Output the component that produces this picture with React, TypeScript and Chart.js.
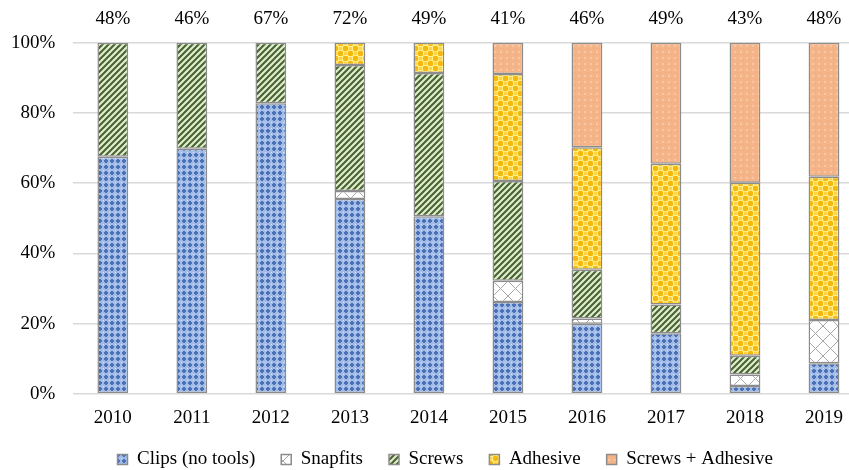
import React, { useEffect, useRef } from "react";
import { Chart, registerables } from "chart.js";

Chart.register(...registerables);

const years = ["2010", "2011", "2012", "2013", "2014", "2015", "2016", "2017", "2018", "2019"];
const totals = ["48%", "46%", "67%", "72%", "49%", "41%", "46%", "49%", "43%", "48%"];
const clips = [67.5, 69.8, 82.8, 55.5, 50.6, 26.1, 19.9, 17.2, 2.2, 8.7];
const snapfits = [null, null, null, 2.3, null, 6.1, 1.5, null, 3.3, 12.3];
const screws = [32.5, 30.2, 17.2, 35.9, 40.8, 28.4, 13.9, 8.2, 5.3, null];
const adhesive = [null, null, null, 6.3, 8.6, 30.5, 34.9, 40.1, 49.3, 40.8];
const screwsAdhesive = [null, null, null, null, null, 8.9, 29.8, 34.5, 39.9, 38.2];
const yTicks = [0, 20, 40, 60, 80, 100];

const FONT = '"Liberation Serif", "Times New Roman", serif';
const FS = 19;

function makePattern(ctx: CanvasRenderingContext2D, size: number, draw: (g: CanvasRenderingContext2D, s: number) => void) {
  const c = document.createElement("canvas");
  c.width = size;
  c.height = size;
  const g = c.getContext("2d")!;
  draw(g, size);
  return ctx.createPattern(c, "repeat")!;
}

const legendShift = {
  id: "legendShift",
  afterLayout(chart: any) {
    const l = chart.legend;
    if (l) {
      l.left += 17;
      l.right += 17;
    }
  },
};

export default function App() {
  const ref = useRef<HTMLCanvasElement>(null);

  useEffect(() => {
    const canvas = ref.current!;
    const ctx = canvas.getContext("2d")!;

    const clipsPat = makePattern(ctx, 6, (g, s) => {
      g.fillStyle = "#a3bce6";
      g.fillRect(0, 0, s, s);
      g.fillStyle = "#4a70b8";
      g.fillRect(2, 1, 2, 4);
      g.fillRect(1, 2, 4, 2);
      g.fillStyle = "#dce6f6";
      g.fillRect(0, 0, 1, 1);
    });
    const snapPat = makePattern(ctx, 15, (g, s) => {
      g.fillStyle = "#ffffff";
      g.fillRect(0, 0, s, s);
      g.strokeStyle = "#a6a6a6";
      g.lineWidth = 1;
      g.beginPath();
      g.moveTo(0, 0);
      g.lineTo(s, s);
      g.moveTo(s, 0);
      g.lineTo(0, s);
      g.stroke();
    });
    const screwsPat = makePattern(ctx, 6, (g, s) => {
      g.fillStyle = "#e3efd3";
      g.fillRect(0, 0, s, s);
      g.strokeStyle = "#4b6532";
      g.lineWidth = 2.2;
      g.beginPath();
      g.moveTo(-1, s + 1);
      g.lineTo(s + 1, -1);
      g.moveTo(-1, 1);
      g.lineTo(1, -1);
      g.moveTo(s - 1, s + 1);
      g.lineTo(s + 1, s - 1);
      g.stroke();
    });
    const adhPat = makePattern(ctx, 10, (g, s) => {
      g.fillStyle = "#fff08a";
      g.fillRect(0, 0, s, s);
      g.fillStyle = "#f5b80c";
      g.beginPath();
      g.arc(2.5, 2.5, 2.8, 0, Math.PI * 2);
      g.fill();
      g.beginPath();
      g.arc(7.5, 7.5, 2.8, 0, Math.PI * 2);
      g.fill();
      g.fillStyle = "#ffd24a";
      g.fillRect(6, 1, 3, 3);
      g.fillRect(1, 6, 3, 3);
    });
    const saPat = makePattern(ctx, 6, (g, s) => {
      g.fillStyle = "#f4b488";
      g.fillRect(0, 0, s, s);
      g.fillStyle = "#f8c8a6";
      g.fillRect(1, 1, 2, 2);
      g.fillStyle = "#eea67a";
      g.fillRect(4, 4, 1, 1);
    });

    const common = {
      borderColor: "#8c8c8c",
      borderWidth: 1.5,
      borderSkipped: false as const,
      barPercentage: 0.39,
      categoryPercentage: 1,
    };

    const chart = new Chart(canvas, {
      type: "bar",
      data: {
        labels: years,
        datasets: [
          { label: "Clips (no tools)", data: clips, backgroundColor: clipsPat, ...common },
          { label: "Snapfits", data: snapfits as any, backgroundColor: snapPat, ...common },
          { label: "Screws", data: screws as any, backgroundColor: screwsPat, ...common },
          { label: "Adhesive", data: adhesive as any, backgroundColor: adhPat, ...common },
          { label: "Screws + Adhesive", data: screwsAdhesive as any, backgroundColor: saPat, ...common },
        ],
      },
      plugins: [legendShift],
      options: {
        animation: false,
        responsive: false,
        maintainAspectRatio: false,
        layout: { padding: { top: 0, left: 10, right: 43.5, bottom: 2 } },
        plugins: {
          tooltip: { enabled: false },
          legend: {
            position: "bottom",
            labels: {
              boxWidth: 10,
              boxHeight: 10,
              padding: 26,
              color: "#000",
              font: { family: FONT, size: FS },
            },
          },
        },
        scales: {
          x: {
            stacked: true,
            grid: { display: false },
            border: { display: false },
            ticks: { color: "#000", font: { family: FONT, size: FS }, padding: 4.5 },
            afterFit: (axis: any) => {
              axis.height -= 9.5;
            },
          },
          x2: {
            type: "category",
            position: "top",
            labels: totals,
            grid: { display: false, drawTicks: false },
            border: { display: false },
            ticks: { color: "#000", font: { family: FONT, size: FS }, padding: 12 },
          },
          y: {
            stacked: true,
            min: 0,
            max: 100,
            afterBuildTicks: (axis: any) => {
              axis.ticks = yTicks.map((v) => ({ value: v }));
            },
            grid: { color: "#d9d9d9", lineWidth: 1.5, drawTicks: false },
            border: { display: false },
            ticks: {
              color: "#000",
              font: { family: FONT, size: FS },
              padding: 18,
              callback: (v: any) => v + "%",
            },
          },
        },
      },
    });
    return () => chart.destroy();
  }, []);

  return (
    <div style={{ position: "fixed", left: 0, top: 0, width: 849, height: 470, overflow: "hidden", background: "#fff" }}>
      <canvas
        ref={ref}
        width={924}
        height={485}
        style={{ position: "absolute", left: -17, top: -4, display: "block", width: 924, height: 485 }}
      />
    </div>
  );
}
